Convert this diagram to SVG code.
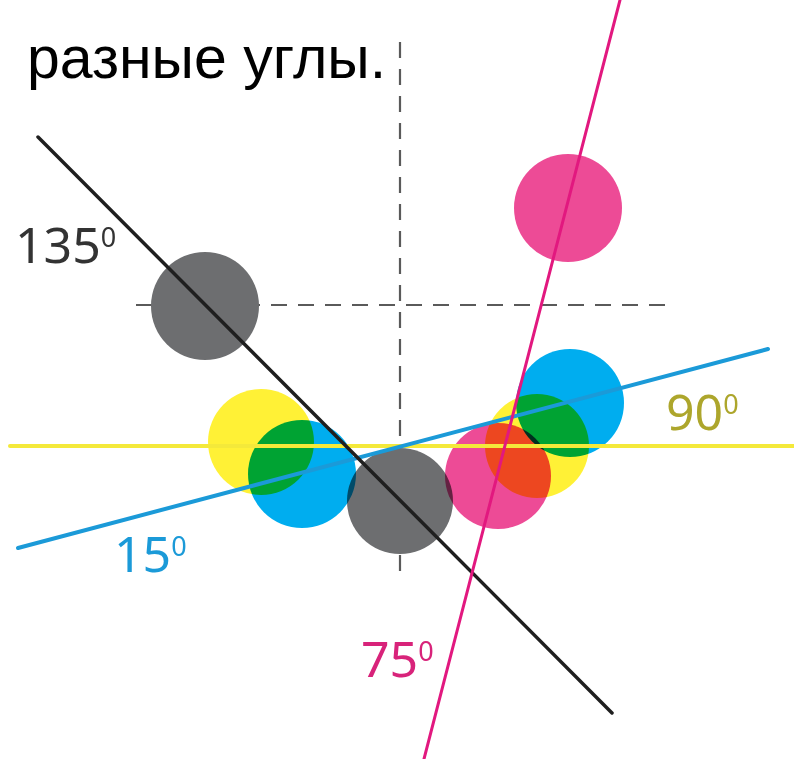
<svg xmlns="http://www.w3.org/2000/svg" width="794" height="759" viewBox="0 0 794 759">
<style>
.dash{stroke:#5a5a5a;stroke-width:2.2;stroke-dasharray:16 11;fill:none}
.c{mix-blend-mode:multiply}
.lbl{font-family:"Noto Sans","Open Sans",sans-serif;font-size:50px}
.sup{font-size:27px}
</style>
<rect width="794" height="759" fill="#fff"/>
<text id="title" x="27" y="78" font-family="Liberation Sans, Arial, sans-serif" font-size="59" fill="#000">разные углы.</text>
<g id="guides">
<line class="dash" x1="400" y1="42" x2="400" y2="578"/>
<line class="dash" x1="136" y1="305" x2="668" y2="305"/>
</g>
<g id="circles" style="isolation:isolate">
<circle id="gray-top" class="c" cx="205" cy="306" r="54" fill="#6d6e70"/>
<circle id="pink-top" class="c" cx="568" cy="208" r="54" fill="#ed4b96"/>
<circle id="yellow-left" class="c" cx="261" cy="442" r="53" fill="#fff136"/>
<circle id="blue-left" class="c" cx="302" cy="474" r="54" fill="#00adef"/>
<circle id="gray-bottom" class="c" cx="400" cy="501" r="53" fill="#6d6e70"/>
<circle id="pink-bottom" class="c" cx="498" cy="476" r="53" fill="#ed4b96"/>
<circle id="yellow-right" class="c" cx="537" cy="446" r="52" fill="#fff136"/>
<circle id="blue-right" class="c" cx="570" cy="403" r="54" fill="#00adef"/>
</g>
<g id="lines" fill="none" stroke-linecap="round">
<line id="line-90" x1="10" y1="446" x2="794" y2="446" stroke="#f4e93a" stroke-width="4"/>
<line id="line-15" x1="18" y1="548" x2="768" y2="349" stroke="#1b9ad8" stroke-width="4"/>
<line id="line-135" x1="38" y1="137" x2="612" y2="713" stroke="#1f1f1f" stroke-width="3.5"/>
<line id="line-75" x1="620" y1="0" x2="424" y2="759" stroke="#e2187f" stroke-width="3"/>
</g>
<g id="labels" class="lbl">
<text x="15" y="263" fill="#333">135<tspan class="sup" dy="-16">0</tspan></text>
<text x="114" y="572" fill="#1b9ad8">15<tspan class="sup" dy="-16">0</tspan></text>
<text x="666" y="430" fill="#ada62c">90<tspan class="sup" dy="-16">0</tspan></text>
<text x="361" y="677" fill="#d8237a">75<tspan class="sup" dy="-16">0</tspan></text>
</g>
</svg>
